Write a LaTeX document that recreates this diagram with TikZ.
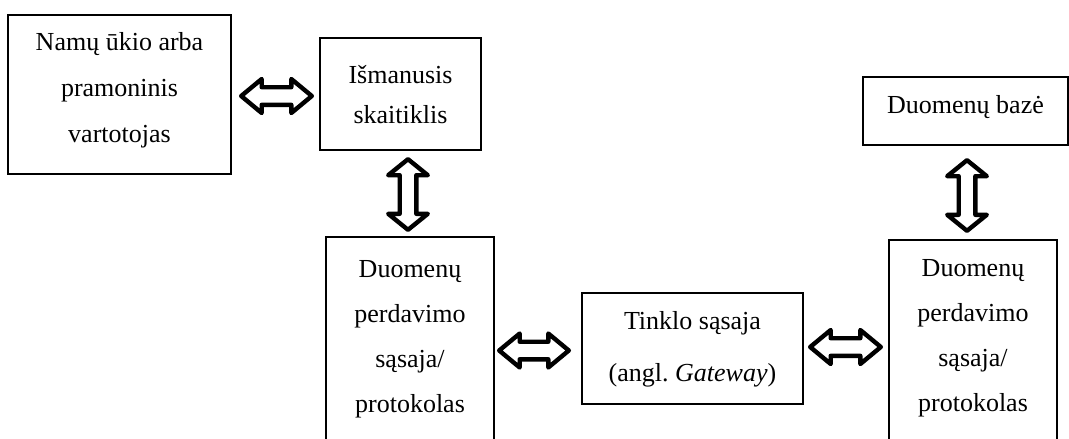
\documentclass[tikz,border=0pt]{standalone}
\usepackage{fontspec}
\setmainfont{Liberation Serif}
\usetikzlibrary{calc}
\tikzset{
  box/.style={draw, line width=1.6pt, inner sep=0pt, outer sep=0pt},
  txt/.style={align=center, inner sep=0pt, font=\fontsize{26}{#1}\selectfont},
  txt/.default=46,
  barrow/.style={draw, line width=4.4pt, line join=round},
}
\newcommand\hdbl[2]{%
  \draw[barrow] let \p1=(#1), \p2=(#2) in
    (\x1,\y1) -- (\x1+20.5pt,\y1+17pt) -- (\x1+20.5pt,\y1+8.8pt) -- (\x2-20.5pt,\y1+8.8pt)
    -- (\x2-20.5pt,\y1+17pt) -- (\x2,\y1) -- (\x2-20.5pt,\y1-17pt) -- (\x2-20.5pt,\y1-8.8pt)
    -- (\x1+20.5pt,\y1-8.8pt) -- (\x1+20.5pt,\y1-17pt) -- cycle;}
\newcommand\vdbl[2]{%
  \draw[barrow] let \p1=(#1), \p2=(#2) in
    (\x1,\y1) -- (\x1+19.8pt,\y1-16pt) -- (\x1+8.3pt,\y1-16pt) -- (\x1+8.3pt,\y2+16pt)
    -- (\x1+19.8pt,\y2+16pt) -- (\x1,\y2) -- (\x1-19.8pt,\y2+16pt) -- (\x1-8.3pt,\y2+16pt)
    -- (\x1-8.3pt,\y1-16pt) -- (\x1-19.8pt,\y1-16pt) -- cycle;}
\begin{document}
\begin{tikzpicture}[x=1pt, y=-1pt]
\clip (0,0) rectangle (1069,439);
% boxes
\node[box, minimum width=223pt, minimum height=159pt] (b1) at (119.5,94.5) {};
\node[box, minimum width=161pt, minimum height=112pt] (b2) at (400.5,94) {};
\node[box, minimum width=168pt, minimum height=263pt] (b3) at (410,368.5) {};
\node[box, minimum width=221pt, minimum height=111pt] (b4) at (692.5,348.5) {};
\node[box, minimum width=168pt, minimum height=260pt] (b5) at (973,370) {};
\node[box, minimum width=205pt, minimum height=68pt] (b6) at (965.5,111) {};
% texts
\node[txt=46] (t1) at (119.5,90) {Namų ūkio arba\\pramoninis\\vartotojas};
\node[txt=40] (t2) at (400.5,94.3) {Išmanusis\\skaitiklis};
\node[txt=45] (t3) at (410,339.7) {Duomenų\\perdavimo\\sąsaja/\\protokolas};
\node[txt=52] (t4) at (692.5,349) {Tinklo sąsaja\\(angl.\ \textit{Gateway})};
\node[txt=45] (t5) at (973,338.2) {Duomenų\\perdavimo\\sąsaja/\\protokolas};
\node[txt=46] (t6) at (965.5,107.3) {Duomenų bazė};
% arrow end points
\coordinate (a1l) at ($(b1.east)+(10.2,1.5)$);
\coordinate (a1r) at ($(b2.west)+(-8.2,2)$);
\coordinate (a2t) at ($(b2.south)+(7.5,9.2)$);
\coordinate (a2b) at ($(a2t |- b3.north)+(0,-7.2)$);
\coordinate (a3l) at ($(b3.east |- b4.west)+(5.2,2)$);
\coordinate (a3r) at ($(b4.west)+(-13.2,2)$);
\coordinate (a4l) at ($(b4.east)+(7.2,-1.5)$);
\coordinate (a4r) at ($(b5.west |- b4.east)+(-8.2,-1.5)$);
\coordinate (a5t) at ($(b6.south)+(1.5,15.2)$);
\coordinate (a5b) at ($(a5t |- b5.north)+(0,-9.2)$);
% block arrows
\hdbl{a1l}{a1r}
\vdbl{a2t}{a2b}
\hdbl{a3l}{a3r}
\hdbl{a4l}{a4r}
\vdbl{a5t}{a5b}
\end{tikzpicture}
\end{document}
